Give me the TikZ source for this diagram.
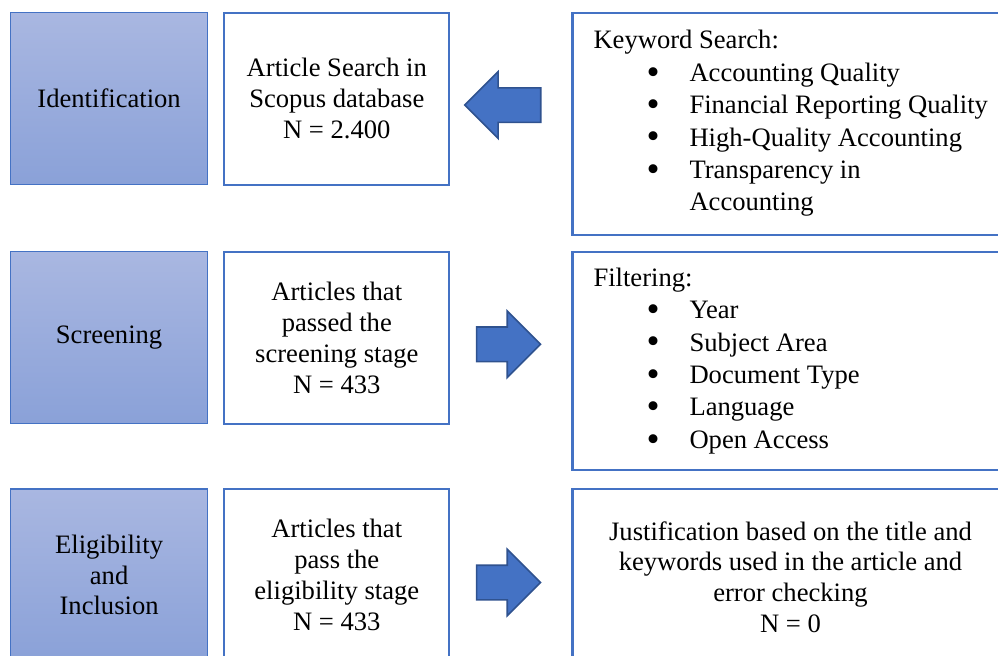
\documentclass[tikz,border=0pt]{standalone}
\usepackage{fontspec}
\setmainfont{Liberation Serif}
\usetikzlibrary{positioning,shapes.arrows,calc}
\definecolor{stgtop}{HTML}{A9B7E1}
\definecolor{stgbot}{HTML}{8AA1D8}
\definecolor{bord}{HTML}{4472C4}
\definecolor{arrdark}{HTML}{2F528F}
\newcommand{\kw}[1]{\hspace*{26.5pt}\makebox[21.5pt][l]{\raisebox{-1.4pt}{\scalebox{1.4}{\textbullet}}}#1}

\begin{document}
\begin{tikzpicture}[
  stg/.style={draw=bord,line width=0.6pt,top color=stgtop,bottom color=stgbot,minimum width=98.5pt,minimum height=86pt,align=flush center,inner sep=0pt},
  bx/.style={draw=bord,line width=1.1pt,fill=white,minimum width=112.5pt,minimum height=86pt,align=flush center,inner sep=0pt},
  lst/.style={draw=bord,line width=1.1pt,fill=white,text width=210pt,inner xsep=10.5pt,inner ysep=0pt,align=flush left,font=\fontsize{13.3}{16.2}\selectfont},
  blk/.style={single arrow,draw=arrdark,fill=bord,line width=0.8pt,inner xsep=0pt,inner ysep=8.25pt,single arrow head extend=8pt},
  font=\fontsize{13.3}{15.4}\selectfont,
  node distance=33pt and 7.5pt
]
\clip (0,0) rectangle (499pt,-327.5pt);
\node[stg,anchor=north west] (ident) at (5pt,-6pt) {Identification};
\node[bx,right=of ident] (search) {Article Search in\\Scopus database\\N = 2.400};
\node[lst,minimum height=111pt,anchor=north west] (keyw) at ([xshift=60.5pt]search.north east) {Keyword Search:\\\kw{Accounting Quality}\\\kw{Financial Reporting Quality}\\\kw{High-Quality Accounting}\\\kw{Transparency in}\\\hspace*{48pt}Accounting};
\node[stg,below=of ident] (screen) {Screening};
\node[bx,right=of screen] (passed) {Articles that\\passed the\\screening stage\\N = 433};
\node[lst,minimum height=109pt,anchor=north west] (filt) at ([xshift=60.5pt]passed.north east) {Filtering:\\\kw{Year}\\\kw{Subject Area}\\\kw{Document Type}\\\kw{Language}\\\kw{Open Access}};
\node[stg,below=32pt of screen] (elig) {Eligibility\\and\\Inclusion};
\node[bx,right=of elig] (pass) {Articles that\\pass the\\eligibility stage\\N = 433};
\node[bx,text width=197pt,inner xsep=10.5pt,minimum height=88pt,anchor=north west] (just) at ([xshift=60.5pt]pass.north east) {Justification based on the title and\\keywords used in the article and\\error checking\\N = 0};
\node[blk,minimum height=38pt,shape border rotate=180] (kwarr) at ($(search.east)+(30.5pt,-3.25pt)$) {};
\node[blk,minimum height=32pt] (filtarr) at ($(passed.east)+(24.75pt,-3.25pt)$) {};
\node[blk,minimum height=32pt] (justarr) at ($(pass.east)+(24.75pt,-3.75pt)$) {};
\end{tikzpicture}
\end{document}
